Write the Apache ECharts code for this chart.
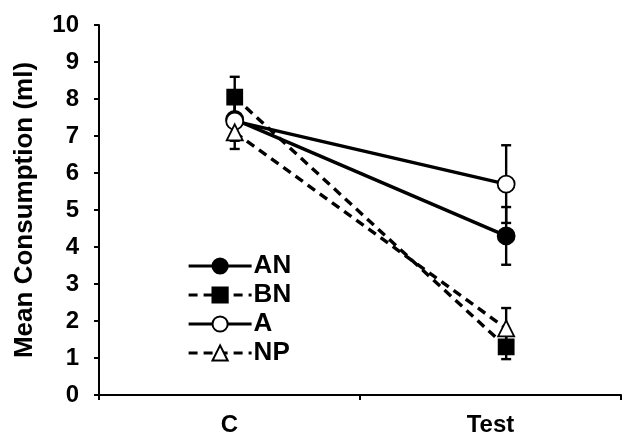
<!DOCTYPE html>
<html>
<head>
<meta charset="utf-8">
<script src="https://cdn.jsdelivr.net/npm/echarts@6/dist/echarts.min.js"></script>
<style>html,body{margin:0;padding:0;background:#fff}#c{width:635px;height:437px}</style>
</head>
<body>
<div id="c"></div>
<script>
const categories = ['C', 'Test'];
const seriesNames = ['AN', 'BN', 'A', 'NP'];
const AN = [7.45, 4.3];
const BN = [8.05, 1.3];
const A  = [7.4, 5.7];
const NP = [7.1, 1.8];
const AN_err = [0.45, 0.78];
const BN_err = [0.55, 0.33];
const A_err  = [0.53, 1.05];
const NP_err = [0.45, 0.55];
const yTicks = [0, 1, 2, 3, 4, 5, 6, 7, 8, 9, 10];

// layout: points sit slightly right of each category centre
const xShift = [0.02, 0.06];
const FONT = 'Liberation Sans, Arial, sans-serif';

const values = [AN, BN, A, NP];
const errs = [AN_err, BN_err, A_err, NP_err];
const styles = [
  {symbol: 'circle', size: 17, fill: '#000', dash: 'solid'},
  {symbol: 'rect', size: 15, fill: '#000', dash: [9, 6]},
  {symbol: 'circle', size: 17, fill: '#fff', dash: 'solid'},
  {symbol: 'triangle', size: 16, fill: '#fff', dash: [9, 6]}
];
const xPos = categories.map((c, i) => i + 0.5 + xShift[i]);

const series = [];
values.forEach((vals, k) => {
  series.push({
    type: 'custom',
    xAxisIndex: 1,
    z: 1,
    silent: true,
    data: vals.map((v, i) => [xPos[i], v - errs[k][i], v + errs[k][i]]),
    renderItem: function (params, api) {
      const lo = api.coord([api.value(0), api.value(1)]);
      const hi = api.coord([api.value(0), api.value(2)]);
      const w = 5;
      const st = {stroke: '#000', lineWidth: 2.4};
      return {type: 'group', children: [
        {type: 'line', shape: {x1: lo[0], y1: lo[1], x2: hi[0], y2: hi[1]}, style: st},
        {type: 'line', shape: {x1: lo[0] - w, y1: lo[1], x2: lo[0] + w, y2: lo[1]}, style: st},
        {type: 'line', shape: {x1: hi[0] - w, y1: hi[1], x2: hi[0] + w, y2: hi[1]}, style: st}
      ]};
    }
  });
});
values.forEach((vals, k) => {
  const s = styles[k];
  series.push({
    name: seriesNames[k],
    type: 'line',
    xAxisIndex: 1,
    z: 2 + k,
    data: vals.map((v, i) => [xPos[i], v]),
    symbol: s.symbol,
    symbolSize: s.size,
    showSymbol: true,
    lineStyle: {color: '#000', width: 3.4, type: s.dash},
    itemStyle: {color: s.fill, borderColor: '#000', borderWidth: 1.8},
    emphasis: {disabled: true},
    animation: false
  });
});

const chart = echarts.init(document.getElementById('c'), null, {renderer: 'canvas'});
chart.setOption({
  backgroundColor: '#fff',
  animation: false,
  grid: {left: 99, right: 14, top: 25, bottom: 41, containLabel: false},
  legend: {
    data: seriesNames,
    orient: 'vertical',
    left: 187,
    top: 253,
    padding: 0,
    itemWidth: 63,
    itemHeight: 19,
    itemGap: 3,
    lineStyle: {width: 3.2},
    textStyle: {fontFamily: FONT, fontWeight: 'bold', fontSize: 26, color: '#000', padding: [0, 0, 0, -3]},
    selectedMode: false
  },
  xAxis: [
    {
      type: 'category',
      data: categories,
      boundaryGap: true,
      axisLine: {lineStyle: {color: '#000', width: 2}},
      axisTick: {show: true, length: 5, lineStyle: {color: '#000', width: 2}},
      axisLabel: {fontFamily: FONT, fontWeight: 'bold', fontSize: 24, color: '#000', margin: 18},
      splitLine: {show: false}
    },
    {type: 'value', min: 0, max: 2, show: false}
  ],
  yAxis: {
    type: 'value',
    min: yTicks[0],
    max: yTicks[yTicks.length - 1],
    interval: 1,
    name: 'Mean Consumption (ml)',
    nameLocation: 'middle',
    nameRotate: 90,
    nameGap: 61,
    nameTextStyle: {fontFamily: FONT, fontWeight: 'bold', fontSize: 26, color: '#000'},
    axisLine: {show: true, lineStyle: {color: '#000', width: 2}},
    axisTick: {show: true, length: 5, lineStyle: {color: '#000', width: 2}},
    axisLabel: {fontFamily: FONT, fontWeight: 'bold', fontSize: 24, color: '#000', margin: 20},
    splitLine: {show: false}
  },
  series: series
});
</script>
</body>
</html>
